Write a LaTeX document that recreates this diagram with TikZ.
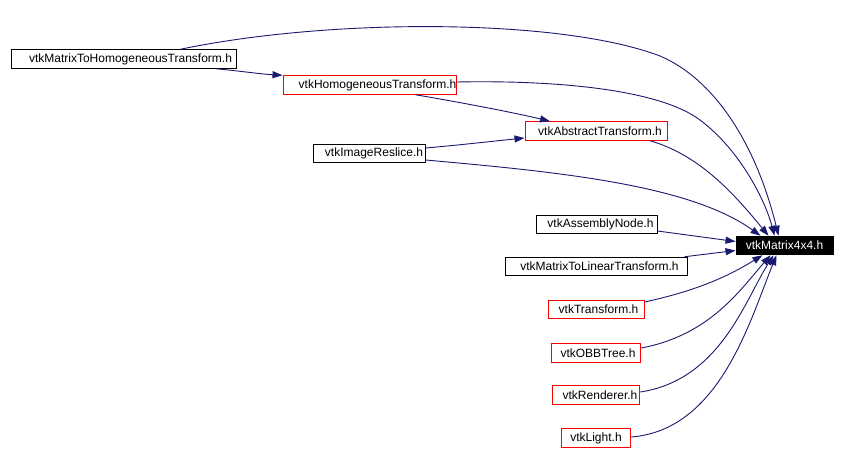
\documentclass[tikz,border=0pt]{standalone}
\usepackage{fontspec}
\setmainfont{Liberation Sans}
\usetikzlibrary{arrows.meta}
\definecolor{Edge}{HTML}{191970}
\definecolor{Frame}{HTML}{FF0000}
\tikzset{
  header/.style={
    draw=black, line width=1pt, fill=white, inner sep=0pt,
    minimum height=18.5pt, font=\fontsize{12}{14}\selectfont
  },
  docheader/.style={header, draw=Frame},
  focus/.style={header, fill=black, text=white},
  nudge/.style={execute at begin node=\hspace*{#1}, execute at end node=\hspace*{-#1}},
  dep/.style={-{Triangle[length=10pt,width=7pt]}, line width=0.9pt, draw=Edge}
}

\begin{document}
\begin{tikzpicture}[x=1pt,y=-1pt]
    \useasboundingbox (0,0) rectangle (845,449);
    \node[header,minimum width=225pt,nudge=7pt] (mth) at (123.5,59) {vtkMatrixToHomogeneousTransform.h};
    \node[docheader,minimum width=173pt,nudge=8pt] (hom) at (369.5,85) {vtkHomogeneousTransform.h};
    \node[docheader,minimum width=142pt,nudge=4pt] (abs) at (596,131) {vtkAbstractTransform.h};
    \node[header,minimum width=112pt,nudge=5pt] (resl) at (369,153.5) {vtkImageReslice.h};
    \node[header,minimum width=121pt,nudge=4pt] (asm) at (596.5,224.5) {vtkAssemblyNode.h};
    \node[focus,minimum width=97pt] (m44) at (784.5,245.5) {vtkMatrix4x4.h};
    \node[header,minimum width=182pt,nudge=3.5pt] (m2l) at (596,266.5) {vtkMatrixToLinearTransform.h};
    \node[docheader,minimum width=96pt,nudge=2.5pt] (tr) at (596,309.5) {vtkTransform.h};
    \node[docheader,minimum width=89.5pt,nudge=2pt] (obb) at (596,353) {vtkOBBTree.h};
    \node[docheader,minimum width=87.5pt,nudge=4pt] (ren) at (596,395) {vtkRenderer.h};
    \node[docheader,minimum width=69.5pt] (lig) at (596,438) {vtkLight.h};
    % includes of the upper part
    \draw[dep] ([xshift=57pt]mth.north) .. controls (330,18) and (560,18) .. (660,56)
      .. controls (712,78) and (755,140) .. ([xshift=-6pt]m44.north);
    \draw[dep] ([xshift=92.5pt]mth.south) .. controls (240,71) and (260,74) .. (hom.north west);
    \draw[dep] ([yshift=3pt]hom.east) .. controls (560,80) and (660,90) .. (700,120)
      .. controls (740,150) and (765,200) .. ([xshift=-10pt]m44.north);
    \draw[dep] ([xshift=46pt]hom.south) .. controls (470,104) and (520,114) .. ([xshift=-46pt]abs.north);
    \draw[dep] ([yshift=5.5pt]resl.east) .. controls (460,145) and (495,141) .. ([yshift=-7pt]abs.west);
    \draw[dep] ([yshift=-6.5pt]resl.east) .. controls (560,172) and (690,185) .. ([xshift=-24pt]m44.north);
    \draw[dep] ([xshift=54pt]abs.south) .. controls (700,155) and (735,195) .. ([xshift=-16pt]m44.north);
    % includes of the lower part
    \draw[dep] ([yshift=-6.5pt]asm.east) -- ([yshift=4pt]m44.west);
    \draw[dep] ([xshift=-3pt]m2l.north east) -- ([yshift=-5pt]m44.west);
    \draw[dep] ([yshift=7.5pt]tr.east) .. controls (700,290) and (730,275) .. ([xshift=-22pt]m44.south);
    \draw[dep] ([yshift=5pt]obb.east) .. controls (710,335) and (740,290) .. ([xshift=-14pt]m44.south);
    \draw[dep] ([yshift=3pt]ren.east) .. controls (720,380) and (745,300) .. ([xshift=-11pt]m44.south);
    \draw[dep] ([yshift=1pt]lig.east) .. controls (720,430) and (750,320) .. ([xshift=-8pt]m44.south);
\end{tikzpicture}
\end{document}
